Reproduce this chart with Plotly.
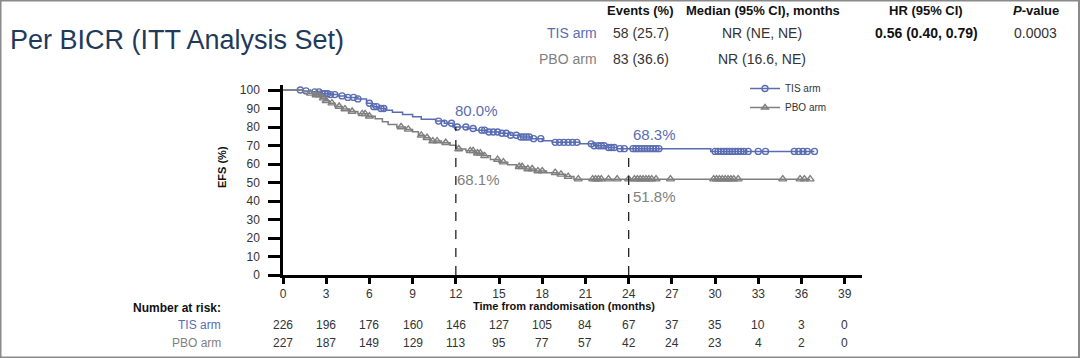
import plotly.graph_objects as go

# ---------------- data ----------------
tis_time = [0, 1.4, 2.0, 2.6, 3.2, 3.8, 4.4, 5.2, 5.8, 6.2, 6.6, 7.1, 7.6, 8.3, 9.0, 9.6, 10.6, 11.2, 11.8,
            12.8, 13.4, 14.2, 15.0, 15.8, 16.5, 17.3, 18.0, 18.7, 20.6, 21.6, 22.4, 23.2, 29.7]
tis_surv = [100, 99.5, 99.0, 98.0, 97.5, 96.8, 96.0, 95.2, 92.8, 91.0, 90.0, 89.0, 88.0, 86.8, 85.5, 84.2, 83.2, 82.0, 80.0,
            79.2, 78.3, 77.3, 76.6, 75.5, 74.6, 73.7, 72.6, 71.7, 70.9, 69.9, 68.9, 68.3, 66.8]
tis_end = 36.9
tis_censor = [1.2, 1.6, 2.2, 2.5, 2.7, 2.9, 3.1, 3.3, 3.6, 4.1, 4.5, 4.9, 5.2, 6.0, 6.3, 6.5, 6.8, 7.0,
              10.8, 11.2, 11.7, 12.1, 12.7, 13.2, 13.8, 14.0, 14.3, 14.6, 14.9, 15.2, 15.5, 15.8, 16.2, 16.5,
              16.7, 16.9, 17.1, 17.4, 17.9, 18.9, 19.2, 19.5, 19.8, 20.1, 20.4, 21.4, 21.6, 21.9, 22.1, 22.3,
              22.6, 22.8, 23.0, 23.4, 23.7, 24.3, 24.5, 24.7, 24.9, 25.1, 25.3, 25.5, 25.7, 25.9, 26.1,
              30.0, 30.2, 30.4, 30.6, 30.8, 31.0, 31.2, 31.4, 31.6, 31.8, 32.0, 32.3, 33.0, 33.5,
              35.5, 35.8, 36.1, 36.4, 36.9]

pbo_time = [0, 1.4, 1.8, 2.2, 2.6, 2.9, 3.2, 3.6, 4.1, 4.6, 5.2, 5.9, 6.4, 6.9, 7.3, 7.9, 8.5, 9.0, 9.4, 9.8,
            10.2, 11.0, 11.6, 12.0, 12.7, 13.3, 13.9, 14.4, 15.0, 15.6, 16.2, 16.9, 17.5, 18.3, 19.0, 19.6, 20.2]
pbo_surv = [100, 99.1, 98.2, 97.3, 95.6, 94.2, 92.9, 91.1, 89.7, 88.4, 87.1, 85.8, 84.5, 82.8, 81.4, 80.0, 78.7,
            77.4, 75.5, 74.2, 72.4, 71.5, 70.1, 68.1, 67.1, 65.8, 64.4, 62.4, 61.0, 59.6, 58.5, 57.3, 56.2, 55.3,
            54.4, 53.2, 51.8]
pbo_end = 36.6
pbo_censor = [1.9, 2.3, 2.5, 2.8, 3.0, 3.4, 3.9, 4.3, 4.8, 5.5, 5.7, 6.0, 8.2, 8.7, 9.6, 10.0, 10.4, 10.7, 11.3,
              12.2, 13.0, 13.2, 13.5, 13.7, 14.0, 14.9, 15.3, 16.4, 16.6, 17.0, 17.3, 17.7, 18.0, 18.9, 19.3,
              19.8, 20.5, 21.5, 21.7, 21.9, 22.1, 22.6, 23.2, 24.0, 24.4, 24.6, 24.8, 25.0, 25.2, 25.4, 25.6,
              25.9, 26.9, 29.9, 30.1, 30.3, 30.5, 30.7, 30.9, 31.1, 31.3, 31.6, 34.7, 35.9, 36.2, 36.6]

landmark_t = [12, 24]
landmark_tis = [80.0, 68.3]
landmark_pbo = [68.1, 51.8]

risk_times = [0, 3, 6, 9, 12, 15, 18, 21, 24, 27, 30, 33, 36, 39]
tis_risk = [226, 196, 176, 160, 146, 127, 105, 84, 67, 37, 35, 10, 3, 0]
pbo_risk = [227, 187, 149, 129, 113, 95, 77, 57, 42, 24, 23, 4, 2, 0]

arm_names = ["TIS arm", "PBO arm"]
events = ["58 (25.7)", "83 (36.6)"]
medians = ["NR (NE, NE)", "NR (16.6, NE)"]
hr_text = "0.56 (0.40, 0.79)"
p_text = "0.0003"

# ---------------- style ----------------
BLUE = "#5a6db3"
GREY = "#7f7f7f"
FONT = "Liberation Sans, Arial, sans-serif"
W, H = 1080, 358
L, R, T, B = 283, 218, 85, 83
PW, PH = W - L - R, H - T - B


def px(x):
    return (x - L) / PW


def py(y):
    return (H - B - y) / PH


def step_value(times, surv, t):
    v = surv[0]
    for ti, si in zip(times, surv):
        if ti <= t:
            v = si
    return v


def note(x, y, text, font, xanchor="center", yanchor="middle", xref="paper", yref="paper", **kw):
    d = dict(x=x, y=y, xref=xref, yref=yref, text=text, showarrow=False, font=font,
             xanchor=xanchor, yanchor=yanchor)
    d.update(kw)
    return d


fig = go.Figure()

for times, surv, end, cens, color, sym, name in [
    (tis_time, tis_surv, tis_end, tis_censor, BLUE, "circle-open", arm_names[0]),
    (pbo_time, pbo_surv, pbo_end, pbo_censor, GREY, "triangle-up-open", arm_names[1]),
]:
    fig.add_trace(go.Scatter(x=times + [end], y=surv + [surv[-1]], mode="lines",
                             line=dict(color=color, width=1.5, shape="hv"),
                             showlegend=False, hoverinfo="skip"))
    fig.add_trace(go.Scatter(x=cens, y=[step_value(times, surv, t) for t in cens], mode="markers",
                             marker=dict(symbol=sym, color=color, size=6 if sym.startswith("circle") else 7,
                                         line=dict(width=1.4, color=color)),
                             showlegend=False, hoverinfo="skip"))
    fig.add_trace(go.Scatter(x=[None], y=[None], mode="lines+markers", name=name,
                             line=dict(color=color, width=1.5),
                             marker=dict(symbol=sym, color=color, size=6, line=dict(width=1.4, color=color))))

# landmark dashed lines
for t, v in zip(landmark_t, landmark_tis):
    fig.add_trace(go.Scatter(x=[t, t], y=[0, v], mode="lines",
                             line=dict(color="#222222", width=1.3, dash="dash"),
                             showlegend=False, hoverinfo="skip"))

ann = []
# landmark labels
lab_pos = [(13.4, 13.6, 88.8, 51.4), (25.8, 25.8, 75.7, 42.7)]
for (lx_t, lx_p, ly_t, ly_p), vt, vp in zip(lab_pos, landmark_tis, landmark_pbo):
    ann.append(note(lx_t, ly_t, f"{vt:.1f}%", dict(size=15, color=BLUE, family=FONT), xref="x", yref="y"))
    ann.append(note(lx_p, ly_p, f"{vp:.1f}%", dict(size=15, color=GREY, family=FONT), xref="x", yref="y"))

# title
ann.append(note(px(8), py(40), "Per BICR (ITT Analysis Set)",
                dict(size=27, color="#1f3a5a", family=FONT), xanchor="left"))

# header table
HDR = dict(size=13, color="#111111", family=FONT)
CELL = dict(size=14, color="#333333", family=FONT)
for txt, cx in [("<b>Events (%)</b>", 640), ("<b>Median (95% CI), months</b>", 763),
                ("<b>HR (95% CI)</b>", 926), ("<b><i>P</i>-value</b>", 1036)]:
    ann.append(note(px(cx), py(11), txt, HDR))
row_y = [33, 59]
for i, (nm, col) in enumerate(zip(arm_names, [BLUE, GREY])):
    ann.append(note(px(599), py(row_y[i]), nm, dict(size=14, color=col, family=FONT), xanchor="right"))
    ann.append(note(px(611), py(row_y[i]), events[i], CELL, xanchor="left"))
    ann.append(note(px(762), py(row_y[i]), medians[i], CELL))
ann.append(note(px(926), py(row_y[0]), f"<b>{hr_text}</b>", dict(size=14, color="#111111", family=FONT)))
ann.append(note(px(1035), py(row_y[0]), p_text, CELL))

# axis titles
ann.append(note(px(222), py(167), "<b>EFS (%)</b>", dict(size=11, color="#111111", family=FONT), textangle=-90))
ann.append(note(px(564), py(306), "<b>Time from randomisation (months)</b>",
                dict(size=11, color="#111111", family=FONT)))

# number at risk
ann.append(note(px(223), py(308), "<b>Number at risk:</b>", dict(size=12, color="#111111", family=FONT),
                xanchor="right"))
for nm, col, risk, yy in [(arm_names[0], BLUE, tis_risk, 325), (arm_names[1], GREY, pbo_risk, 343)]:
    ann.append(note(px(223), py(yy), nm, dict(size=12, color=col, family=FONT), xanchor="right"))
    for t, n in zip(risk_times, risk):
        ann.append(note(t, py(yy), str(n), dict(size=12, color="#333333", family=FONT), xref="x"))

fig.update_layout(
    width=W, height=H, margin=dict(l=L, r=R, t=T, b=B),
    paper_bgcolor="white", plot_bgcolor="white",
    font=dict(family=FONT, size=12, color="#333333"),
    annotations=ann,
    legend=dict(x=px(745), y=py(74), xanchor="left", yanchor="top", bgcolor="rgba(0,0,0,0)",
                font=dict(size=10, color="#333333", family=FONT), tracegroupgap=0, itemwidth=30),
    shapes=[dict(type="rect", xref="paper", yref="paper", x0=px(0.5), x1=px(1079), y0=py(357.5), y1=py(0.5),
                 line=dict(color="#8a8a8a", width=2), layer="above")],
    xaxis=dict(range=[0, 40.2], tickvals=risk_times, showline=True, linecolor="black", linewidth=2.5,
               ticks="outside", ticklen=6, tickwidth=2.5, tickcolor="black", showgrid=False, zeroline=False,
               ticklabelstandoff=0, tickfont=dict(size=12, color="#333333", family=FONT)),
    yaxis=dict(range=[0, 102.7], tickvals=list(range(0, 101, 10)), showline=True, linecolor="black",
               linewidth=2.5, ticks="outside", ticklen=12, tickwidth=2.5, tickcolor="black", showgrid=False,
               zeroline=False, ticklabelstandoff=6, tickfont=dict(size=12, color="#333333", family=FONT)),
)

fig.write_html("out.html", config={"displayModeBar": False},
               post_script="document.body.style.margin='0';document.body.style.overflow='hidden';")
